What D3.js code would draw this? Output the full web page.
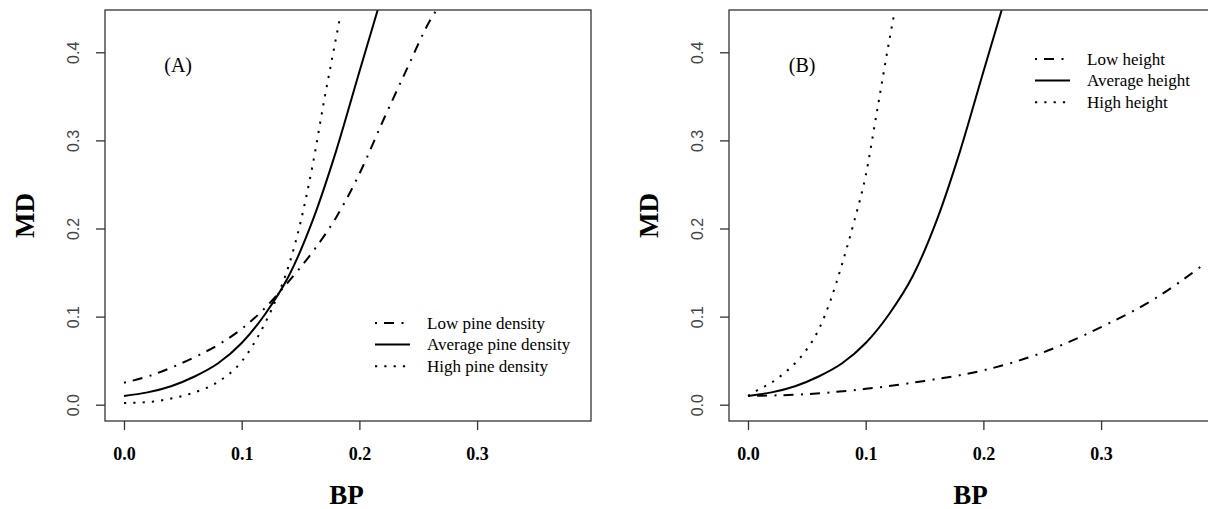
<!DOCTYPE html>
<html>
<head>
<meta charset="utf-8">
<script src="https://cdn.jsdelivr.net/npm/d3@7"></script>
<style>
  body { margin: 0; background: #fff; }
  svg { display: block; }
</style>
</head>
<body>
<svg></svg>
<script>
const width = 1208;
const height = 509;

// panel A: pine density
const bpLowA = [0, 0.02, 0.04, 0.06, 0.08, 0.10, 0.12, 0.14, 0.16, 0.18, 0.20, 0.22, 0.24, 0.26, 0.265];
const mdLowA = [0.025, 0.032, 0.042, 0.054, 0.068, 0.086, 0.110, 0.140, 0.173, 0.212, 0.262, 0.322, 0.380, 0.436, 0.447];
const bpAvgA = [0, 0.02, 0.04, 0.06, 0.08, 0.10, 0.12, 0.14, 0.16, 0.18, 0.20, 0.22];
const mdAvgA = [0.010, 0.014, 0.021, 0.032, 0.047, 0.070, 0.103, 0.146, 0.208, 0.287, 0.378, 0.468];
const bpHighA = [0, 0.02, 0.04, 0.06, 0.08, 0.10, 0.12, 0.13, 0.14, 0.15, 0.16, 0.17, 0.18, 0.184];
const mdHighA = [0.002, 0.003, 0.007, 0.014, 0.026, 0.049, 0.093, 0.122, 0.158, 0.207, 0.270, 0.345, 0.415, 0.443];

// panel B: height
const bpLowB = [0, 0.05, 0.10, 0.15, 0.20, 0.25, 0.30, 0.35, 0.385];
const mdLowB = [0.010, 0.012, 0.018, 0.027, 0.039, 0.059, 0.088, 0.124, 0.157];
const bpAvgB = [0, 0.02, 0.04, 0.06, 0.08, 0.10, 0.12, 0.14, 0.16, 0.18, 0.20, 0.22];
const mdAvgB = [0.010, 0.014, 0.021, 0.032, 0.047, 0.070, 0.103, 0.146, 0.208, 0.287, 0.378, 0.468];
const bpHighB = [0, 0.01, 0.02, 0.03, 0.04, 0.05, 0.06, 0.07, 0.08, 0.09, 0.10, 0.11, 0.12, 0.124];
const mdHighB = [0.010, 0.018, 0.025, 0.035, 0.047, 0.063, 0.085, 0.118, 0.160, 0.207, 0.260, 0.336, 0.413, 0.442];

const xTicks = [0, 0.1, 0.2, 0.3];
const yTicks = [0, 0.1, 0.2, 0.3, 0.4];
const legendA = ['Low pine density', 'Average pine density', 'High pine density'];
const legendB = ['Low height', 'Average height', 'High height'];

const dashes = ['2,7,10,7.5', null, '2.2,7.1'];

const svg = d3.select('svg')
  .attr('width', width)
  .attr('height', height);

const plotTop = 10, plotBottom = 421;
const y = d3.scaleLinear().domain([-0.0185, 0.448]).range([plotBottom, plotTop]);

function panel(id, left, right, series, labels, tag, legendX, legendY) {
  const x = d3.scaleLinear().domain([-0.01614, 0.3968]).range([left, right]);
  const g = svg.append('g');

  g.append('clipPath').attr('id', 'clip' + id)
    .append('rect')
    .attr('x', left).attr('y', plotTop)
    .attr('width', right - left).attr('height', plotBottom - plotTop);

  const line = d3.line()
    .x(d => x(d[0]))
    .y(d => y(d[1]))
    .curve(d3.curveMonotoneX);

  g.append('g').attr('clip-path', 'url(#clip' + id + ')')
    .selectAll('path')
    .data(series)
    .enter()
    .append('path')
    .attr('fill', 'none')
    .attr('stroke', '#000')
    .attr('stroke-width', 2)
    .attr('stroke-dasharray', (d, i) => dashes[i])
    .attr('d', d => line(d3.zip(d[0], d[1])));

  // box
  g.append('rect')
    .attr('x', left).attr('y', plotTop)
    .attr('width', right - left).attr('height', plotBottom - plotTop)
    .attr('fill', 'none')
    .attr('stroke', '#333')
    .attr('stroke-width', 1.3);

  const xAxis = g.append('g')
    .attr('transform', `translate(0,${plotBottom})`)
    .call(d3.axisBottom(x).tickValues(xTicks).tickSize(9).tickFormat(d3.format('.1f')));
  xAxis.select('.domain').remove();
  xAxis.selectAll('line').attr('stroke', '#333').attr('stroke-width', 1.3);
  xAxis.selectAll('text')
    .attr('y', 33)
    .attr('dy', '0.35em')
    .attr('fill', '#000')
    .style('font-family', '"Liberation Serif", serif')
    .style('font-weight', 'bold')
    .style('font-size', '18px');

  const yAxis = g.append('g')
    .attr('transform', `translate(${left},0)`)
    .call(d3.axisLeft(y).tickValues(yTicks).tickSize(9).tickFormat(d3.format('.1f')));
  yAxis.select('.domain').remove();
  yAxis.selectAll('line').attr('stroke', '#333').attr('stroke-width', 1.3);
  yAxis.selectAll('text')
    .attr('x', null)
    .attr('dy', null)
    .attr('transform', 'translate(-32,0) rotate(-90)')
    .attr('text-anchor', 'middle')
    .attr('dominant-baseline', 'central')
    .attr('fill', '#444')
    .style('font-family', '"Liberation Sans", Arial, sans-serif')
    .style('font-size', '16px');

  g.append('text')
    .attr('x', x(0.046))
    .attr('y', y(0.386))
    .attr('text-anchor', 'middle')
    .attr('dominant-baseline', 'central')
    .style('font-family', '"Liberation Serif", serif')
    .style('font-size', '20px')
    .text(tag);

  g.append('text')
    .attr('transform', `translate(${left - 80},${(plotTop + plotBottom) / 2}) rotate(-90)`)
    .attr('text-anchor', 'middle')
    .attr('dominant-baseline', 'central')
    .style('font-family', '"Liberation Serif", serif')
    .style('font-weight', 'bold')
    .style('font-size', '27px')
    .text('MD');

  g.append('text')
    .attr('x', x(0.189))
    .attr('y', 504)
    .attr('text-anchor', 'middle')
    .style('font-family', '"Liberation Serif", serif')
    .style('font-weight', 'bold')
    .style('font-size', '27px')
    .text('BP');

  const leg = g.append('g')
    .selectAll('g')
    .data(labels)
    .enter()
    .append('g')
    .attr('transform', (d, i) => `translate(${legendX},${legendY + i * 21.6})`);
  leg.append('line')
    .attr('x1', 0).attr('x2', 35)
    .attr('stroke', '#000')
    .attr('stroke-width', 2)
    .attr('stroke-dasharray', (d, i) => dashes[i]);
  leg.append('text')
    .attr('x', 52)
    .attr('dominant-baseline', 'central')
    .style('font-family', '"Liberation Serif", serif')
    .style('font-size', '17px')
    .text(d => d);
}

panel('A', 105, 591,
  [[bpLowA, mdLowA], [bpAvgA, mdAvgA], [bpHighA, mdHighA]],
  legendA, '(A)', 375, 323);
panel('B', 729, 1215,
  [[bpLowB, mdLowB], [bpAvgB, mdAvgB], [bpHighB, mdHighB]],
  legendB, '(B)', 1035, 59);
</script>
</body>
</html>
